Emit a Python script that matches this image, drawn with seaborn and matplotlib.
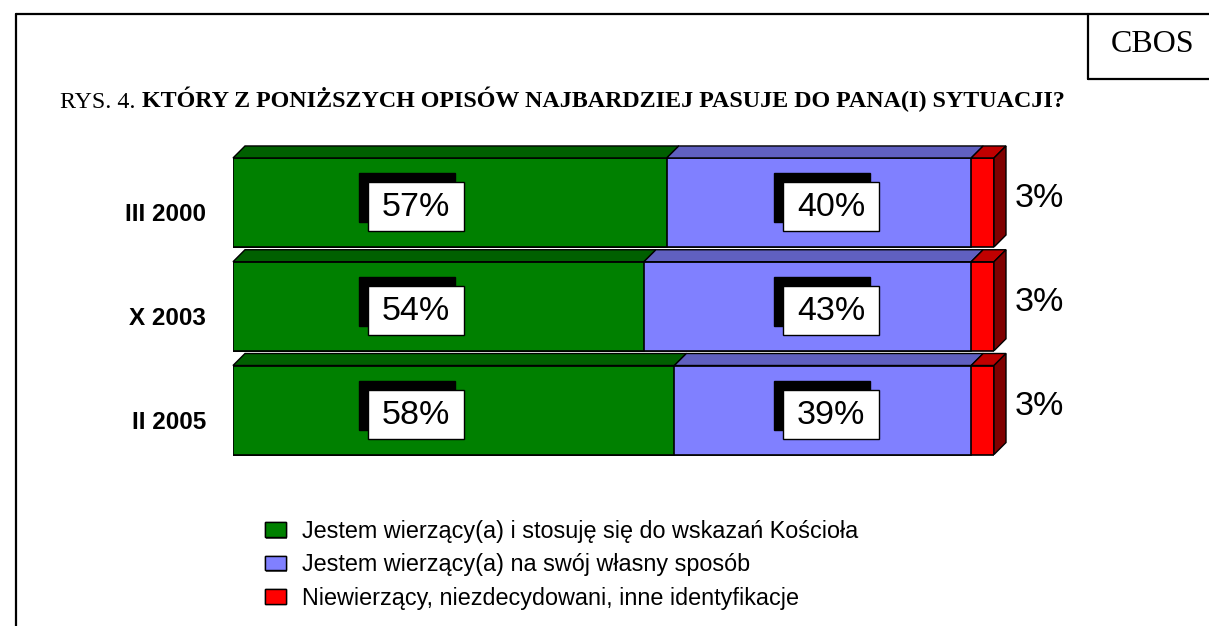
import numpy as np
import pandas as pd
import matplotlib
matplotlib.use("Agg")
import matplotlib.pyplot as plt
import seaborn as sns
from matplotlib.patches import Polygon, Rectangle, Patch
from matplotlib.lines import Line2D
import matplotlib.patheffects as pe
from matplotlib.transforms import ScaledTranslation

# ---------------- data ----------------
categories = ["III 2000", "X 2003", "II 2005"]
wg_kosciola = [57, 54, 58]
wlasny_sposob = [40, 43, 39]
inne = [3, 3, 3]
series_labels = [
    "Jestem wierzący(a) i stosuję się do wskazań Kościoła",
    "Jestem wierzący(a) na swój własny sposób",
    "Niewierzący, niezdecydowani, inne identyfikacje",
]
title_prefix = "RYS. 4. "
title_main = "KTÓRY Z PONIŻSZYCH OPISÓW NAJBARDZIEJ PASUJE DO PANA(I) SYTUACJI?"
source_label = "CBOS"

# ---------------- style ----------------
front_colors = ["#008000", "#8080FF", "#FF0000"]
top_colors = ["#006000", "#6060C0", "#C00000"]
side_color = "#800000"

sns.set_theme(style="white")
plt.rcParams["font.family"] = ["Liberation Sans", "DejaVu Sans"]
plt.rcParams["text.color"] = "black"
plt.rcParams["axes.labelcolor"] = "black"
plt.rcParams["xtick.color"] = "black"
plt.rcParams["ytick.color"] = "black"
SERIF = ["Liberation Serif", "DejaVu Serif"]

W, H = 1209, 626
fig = plt.figure(figsize=(W / 100, H / 100), dpi=100)
fig.patch.set_facecolor("white")

ax_l, ax_r = 233, 994
ax_t, ax_b = 150.6, 461.9
ax = fig.add_axes([ax_l / W, 1 - ax_b / H, (ax_r - ax_l) / W, (ax_b - ax_t) / H])

df = pd.DataFrame({"kat": categories, "s1": wg_kosciola, "s2": wlasny_sposob, "s3": inne})
df["c1"] = df["s1"]
df["c2"] = df["s1"] + df["s2"]
df["c3"] = df["c2"] + df["s3"]

bar_w = 0.858
for col, fc in zip(["c3", "c2", "c1"], front_colors[::-1]):
    sns.barplot(data=df, x=col, y="kat", orient="h", color=fc, saturation=1,
                edgecolor="black", linewidth=1.2, width=bar_w, ax=ax, zorder=2)

ax.set_xlim(0, 100)
ax.set_ylim(len(categories) - 0.5, -0.5)

# pixel -> data conversions
dxd = 100 / (ax_r - ax_l)
dyd = len(categories) / (ax_b - ax_t)
depth = 12
dx, dy = depth * dxd, depth * dyd

# 3D faces
for i in range(len(df)):
    yt = i - bar_w / 2
    yb = i + bar_w / 2
    starts = [0, df["c1"][i], df["c2"][i]]
    ends = [df["c1"][i], df["c2"][i], df["c3"][i]]
    for s, e, tc in zip(starts, ends, top_colors):
        ax.add_patch(Polygon([(s, yt), (e, yt), (e + dx, yt - dy), (s + dx, yt - dy)],
                             closed=True, facecolor=tc, edgecolor="black",
                             linewidth=1.0, clip_on=False, zorder=3))
    e = ends[-1]
    ax.add_patch(Polygon([(e, yt), (e, yb), (e + dx, yb - dy), (e + dx, yt - dy)],
                         closed=True, facecolor=side_color, edgecolor="black",
                         linewidth=1.0, clip_on=False, zorder=3))

# value labels in boxes with shadow
box_w, box_h = 96 * dxd, 49 * dyd
sh = 9
label_x = [24.05, 78.6]
for i in range(len(df)):
    vals = [df["s1"][i], df["s2"][i]]
    cy = i + 4 * dyd
    for lx, v in zip(label_x, vals):
        ax.add_patch(Rectangle((lx - box_w / 2 - sh * dxd, cy - box_h / 2 - sh * dyd), box_w, box_h,
                               facecolor="black", edgecolor="black", zorder=4))
        ax.add_patch(Rectangle((lx - box_w / 2, cy - box_h / 2), box_w, box_h,
                               facecolor="white", edgecolor="black", linewidth=1.0, zorder=5))
        ax.text(lx, cy + 1 * dyd, f"{v}%", ha="center", va="center", fontsize=24.5,
                color="black", zorder=6)
    ax.text(100 + 21 * dxd, i - 4 * dyd, f"{df['s3'][i]}%", ha="left", va="center",
            fontsize=24.5, color="black", clip_on=False)

# axes cosmetics
for sp in ax.spines.values():
    sp.set_visible(False)
ax.set_xlabel("")
ax.set_ylabel("")
ax.set_xticks([])
ax.tick_params(axis="y", length=0, pad=19.4)
ax.set_yticks(range(len(categories)))
ax.set_yticklabels(categories, fontsize=17.5, fontweight="bold", color="black")
for lbl in ax.get_yticklabels():
    lbl.set_transform(lbl.get_transform() + ScaledTranslation(0, -0.10, fig.dpi_scale_trans))
ax.patch.set_alpha(0)

# title
fig.text(60 / W, 1 - 107.5 / H, title_prefix, family=SERIF, fontsize=17.3, va="baseline", ha="left")
fig.text(142 / W, 1 - 107.5 / H, title_main, family=SERIF, fontsize=17.3, fontweight="bold",
         va="baseline", ha="left")
fig.text(1153 / W, 1 - 45 / H, source_label, family=SERIF, fontsize=23, ha="center", va="center")

# frame lines
lw = 1.6
fig.add_artist(Line2D([16 / W, 1], [1 - 14 / H, 1 - 14 / H], color="black", lw=lw))
fig.add_artist(Line2D([16 / W, 16 / W], [1 - 14 / H, 0], color="black", lw=lw))
fig.add_artist(Line2D([1088 / W, 1088 / W], [1 - 14 / H, 1 - 79 / H], color="black", lw=lw))
fig.add_artist(Line2D([1088 / W, 1], [1 - 79 / H, 1 - 79 / H], color="black", lw=lw))

# legend
handles = [Patch(facecolor=c, edgecolor="black", linewidth=1.0,
                 path_effects=[pe.withSimplePatchShadow(offset=(1, -1), shadow_rgbFace="black", alpha=0.6), pe.Normal()])
           for c in front_colors]
fig.legend(handles, series_labels, loc="upper left", bbox_to_anchor=(265 / W, 1 - 520 / H),
           frameon=False, fontsize=16.8, handlelength=0.9, handleheight=0.6,
           handletextpad=0.7, labelspacing=0.44, borderpad=0, borderaxespad=0)

fig.savefig("out.png", dpi=100, facecolor="white")
